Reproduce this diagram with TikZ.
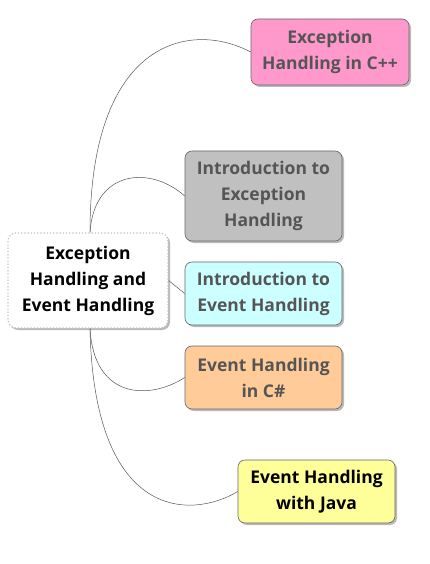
\documentclass[tikz,border=0pt]{standalone}
\usepackage{fontspec}
\setmainfont{Open Sans}
\usetikzlibrary{shadows}
\definecolor{txtgrey}{HTML}{555555}
\definecolor{cpink}{HTML}{FF99CC}
\definecolor{cgrey}{HTML}{C0C0C0}
\definecolor{ccyan}{HTML}{CCFFFF}
\definecolor{corange}{HTML}{FFCC99}
\definecolor{cyellow}{HTML}{FFFF99}
\definecolor{cline}{HTML}{555555}
\tikzset{
  topic/.style={rounded corners=7pt, draw=black!60, line width=0.6pt,
    drop shadow={shadow xshift=2pt, shadow yshift=-2pt, fill=black!45, opacity=0.6},
    align=center, inner sep=0pt, font=\fontsize{17.5}{26}\selectfont\bfseries,
    text=txtgrey},
  rootbox/.style={rounded corners=8pt, draw=black!25, dotted, line width=1.2pt, fill=white,
    drop shadow={shadow xshift=2pt, shadow yshift=-2pt, fill=black!45, opacity=0.6},
    align=center, inner sep=0pt, font=\fontsize{17.5}{26}\selectfont\bfseries, text=black},
  conn/.style={draw=cline, line width=0.5pt}
}
\begin{document}
\begin{tikzpicture}[x=1pt,y=-1pt]
\useasboundingbox (0,0) rectangle (429,564);
\node[rootbox, minimum width=160pt, minimum height=95pt] (root) at (88,280.5)
  {Exception\\Handling and\\Event Handling};
\node[topic, fill=cpink, minimum width=158pt, minimum height=66pt] (cpp) at (330,52)
  {Exception\\Handling in C++};
\node[topic, fill=cgrey, minimum width=157pt, minimum height=90pt] (iex) at (263.5,196)
  {Introduction to\\Exception\\Handling};
\node[topic, fill=ccyan, minimum width=157pt, minimum height=63pt] (iev) at (263.5,293.5)
  {Introduction to\\Event Handling};
\node[topic, fill=corange, minimum width=157pt, minimum height=63pt] (cs) at (263.5,377.5)
  {Event Handling\\in C\#};
\node[topic, fill=cyellow, text=black, minimum width=157pt, minimum height=63pt] (java) at (316.5,491.5)
  {Event Handling\\with Java};
\coordinate (rt) at ([xshift=2pt]root.north);
\coordinate (rb) at ([xshift=2pt]root.south);
\draw[conn] (rt) .. controls (90,40) and (190,20) .. (cpp.west);
\draw[conn] (rt) .. controls (94,170) and (150,165) .. (iex.west);
\draw[conn] (root.east) -- (iev.west);
\draw[conn] (rb) .. controls (94,400) and (150,400) .. (cs.west);
\draw[conn] (rb) .. controls (94,520) and (190,520) .. (java.west);
\end{tikzpicture}
\end{document}
